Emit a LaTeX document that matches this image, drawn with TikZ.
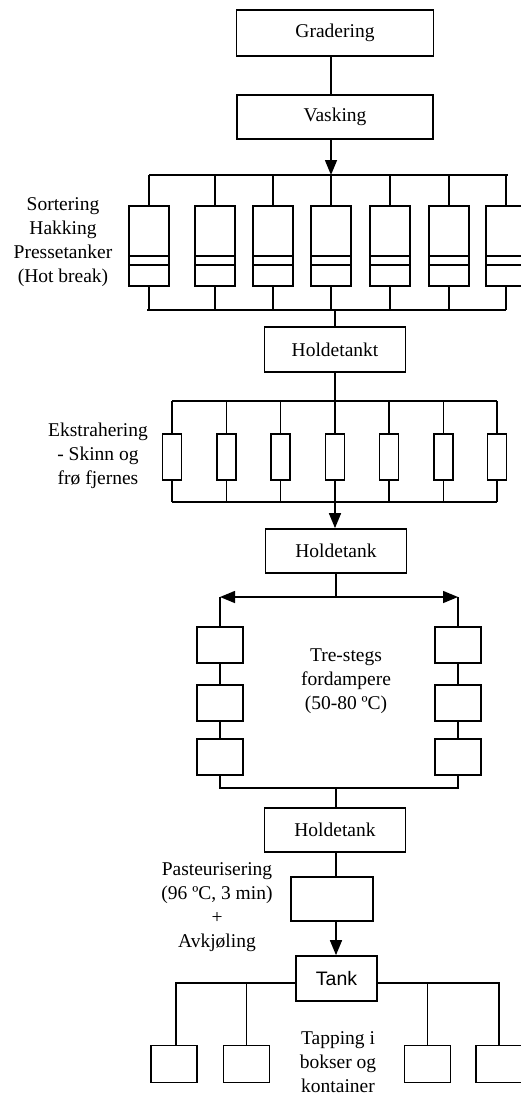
\documentclass[tikz,border=0pt]{standalone}
\usepackage{fontspec}
\setmainfont{Liberation Serif}
\newfontfamily\tanksans{Liberation Sans}
\usetikzlibrary{arrows.meta}
\tikzset{
  bx/.style 2 args={draw, line width=1.7pt, minimum width=#1, minimum height=#2, inner sep=0pt},
  hbox/.style={bx={40}{80}, path picture={
      \draw[line width=1.6pt] ([yshift=-10pt]path picture bounding box.west) -- ([yshift=-10pt]path picture bounding box.east);
      \draw[line width=1.6pt] ([yshift=-19pt]path picture bounding box.west) -- ([yshift=-19pt]path picture bounding box.east);}},
  conn/.style={line width=1.5pt},
  tip/.tip={Triangle[length=15pt,width=12pt]},
  arr/.style={conn, -tip},
  darr/.style={conn, tip-tip},
  lbl/.style={font=\fontsize{19.5}{24}\selectfont, align=center, inner sep=0pt},
}
\begin{document}
\begin{tikzpicture}[x=1pt,y=-1pt]
\useasboundingbox (0,0) rectangle (520,1096);

% top boxes
\node[bx={197}{46}, lbl] (grad) at (335,33) {Gradering};
\node[bx={196}{44}, lbl] (vask) at (335,117) {Vasking};
\coordinate (m1) at (331,175);
\draw[conn] (grad.south -| m1) -- (vask.north -| m1);
\draw[arr] (vask.south -| m1) -- (m1);

% hot break manifold
\draw[conn] (149,175) -- (508,175);
\draw[conn] (147,310) -- (506,310);
\foreach \x [count=\i] in {149,215,273,331,390,449,506} {
  \node[hbox] (hb\i) at (\x,246) {};
  \draw[conn] (hb\i.north |- 0,175) -- (hb\i.north);
  \draw[conn] (hb\i.south) -- (hb\i.south |- 0,310);
}
\node[lbl] (lab1) at (63,242) {Sortering\\Hakking\\Pressetanker\\(Hot break)};

% Holdetankt
\coordinate (m2) at (335,310);
\node[bx={141}{45}, lbl] (ht1) at (335,349.5) {Holdetankt};
\draw[conn] (m2) -- (ht1.north);

% extraction
\coordinate (m3) at (335,401);
\draw[conn] (ht1.south) -- (m3);
\draw[conn] (172,401) -- (497,401);
\draw[conn] (172,502) -- (497,502);
\foreach \x [count=\i] in {172,226.5,280.5,335,389,443.5,497} {
  \node[bx={19}{46}] (ex\i) at (\x,457) {};
  \draw[conn] (ex\i.north |- 0,401) -- (ex\i.north);
  \draw[conn] (ex\i.south) -- (ex\i.south |- 0,502);
}
\node[lbl] (lab2) at (98,456) {Ekstrahering\\- Skinn og\\frø fjernes};

% Holdetank
\coordinate (m4) at (335,502);
\node[bx={141}{44}, lbl] (ht2) at (336,551) {Holdetank};
\draw[arr] (m4) -- (ht2.north -| m4);

% evaporators
\coordinate (ev) at (336,597);
\coordinate (evL) at (220,597);
\coordinate (evR) at (458,597);
\draw[conn] (ht2.south -| ev) -- (ev);
\draw[darr] (evL) -- (evR);
\foreach \y [count=\i] in {645,703,757} {
  \node[bx={46}{36}] (eL\i) at (220,\y) {};
  \node[bx={46}{36}] (eR\i) at (458,\y) {};
}
\draw[conn] (evL) -- (eL1.north);
\draw[conn] (eL1.south) -- (eL2.north);
\draw[conn] (eL2.south) -- (eL3.north);
\draw[conn] (evR) -- (eR1.north);
\draw[conn] (eR1.south) -- (eR2.north);
\draw[conn] (eR2.south) -- (eR3.north);
\coordinate (m5) at (336,788);
\draw[conn] (eL3.south) -- (eL3.south |- m5) -- (eR3.south |- m5) -- (eR3.south);
\node[lbl] (lab3) at (346,681) {Tre-stegs\\fordampere\\(50-80 ºC)};

% Holdetank 2
\node[bx={141}{44}, lbl] (ht3) at (335,830) {Holdetank};
\draw[conn] (m5) -- (ht3.north -| m5);

% pasteurisation
\node[bx={82}{44}] (past) at (332,899) {};
\draw[conn] (ht3.south -| m5) -- (past.north -| m5);
\node[lbl] (lab4) at (217,907) {Pasteurisering\\(96 ºC, 3 min)\\+\\Avkjøling};

% tank
\node[bx={81}{45}, font=\tanksans\fontsize{19.5}{24}\selectfont] (tank) at (336.5,978.5) {Tank};
\draw[arr] (past.south -| m5) -- (tank.north -| m5);

% filling
\coordinate (tL) at (176,983);
\coordinate (tR) at (499,983);
\foreach \x [count=\i] in {174,246.5,427.5,499} {
  \node[bx={46}{37}] (b\i) at (\x,1064) {};
}
\draw[conn] (tank.west |- tL) -- (tL) -- (tL |- b1.north);
\draw[conn] (b2.north |- tL) -- (b2.north);
\draw[conn] (tank.east |- tR) -- (tR) -- (b4.north);
\draw[conn] (b3.north |- tR) -- (b3.north);
\node[lbl] (lab5) at (338,1062) {Tapping i\\bokser og\\kontainer};
\end{tikzpicture}
\end{document}
